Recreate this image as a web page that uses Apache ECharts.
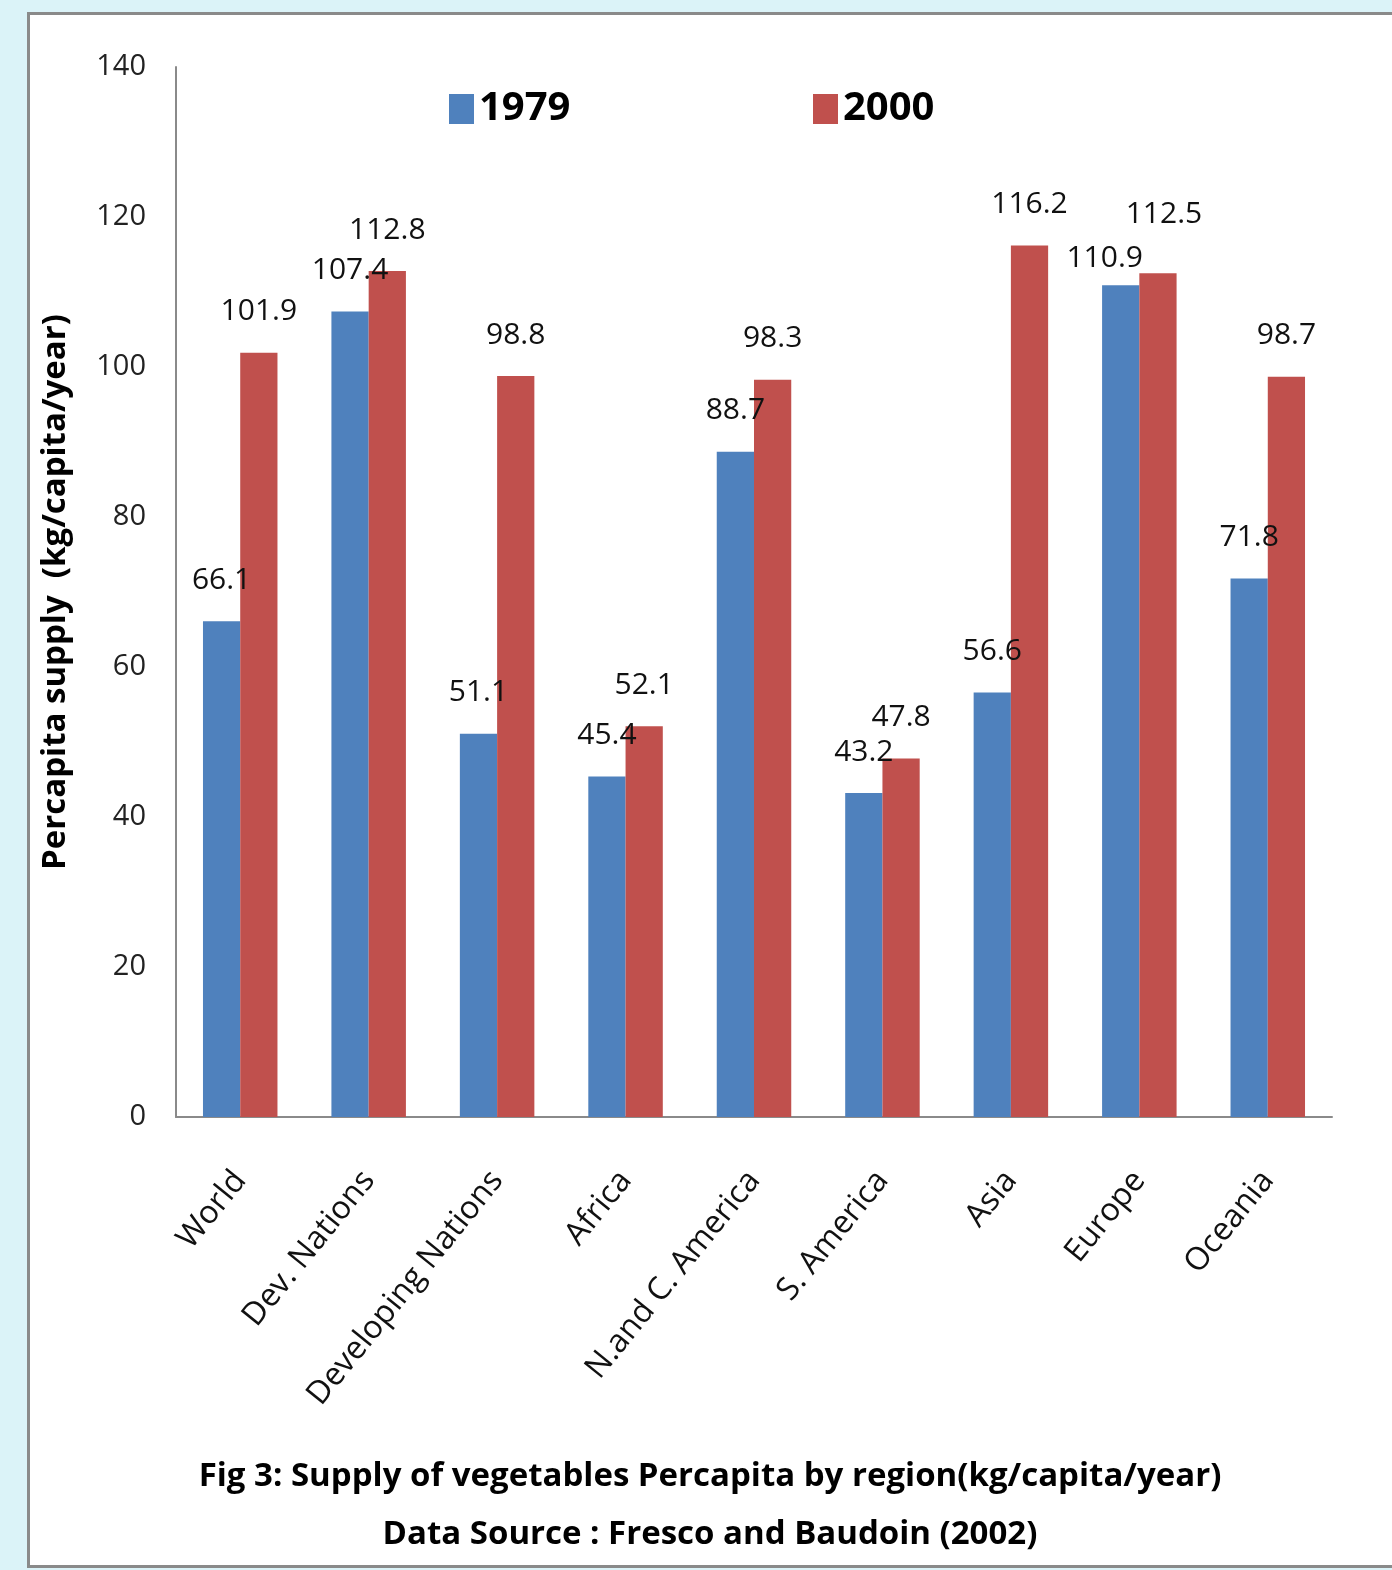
<!DOCTYPE html>
<html>
<head>
<meta charset="utf-8">
<script src="https://cdn.jsdelivr.net/npm/echarts@6/dist/echarts.min.js"></script>
<style>
  html, body { margin: 0; padding: 0; background: #dbf3f8; }
  #chart { width: 1392px; height: 1570px; }
</style>
</head>
<body>
<div id="chart"></div>
<script>
// 地区名称
var regions = ['World', 'Dev. Nations', 'Developing Nations', 'Africa', 'N.and C. America',
               'S. America', 'Asia', 'Europe', 'Oceania'];
// 1979 / 2000 人均蔬菜供应量
var supply1979 = [66.1, 107.4, 51.1, 45.4, 88.7, 43.2, 56.6, 110.9, 71.8];
var supply2000 = [101.9, 112.8, 98.8, 52.1, 98.3, 47.8, 116.2, 112.5, 98.7];
var yTicks = [0, 20, 40, 60, 80, 100, 120, 140];

var FONT = '"Open Sans", "Noto Sans", sans-serif';
var chart = echarts.init(document.getElementById('chart'));

// Europe 的两个标签在原图中错开摆放
function withOffsets(values, offsets) {
    return values.map(function (v, i) {
        return offsets[i] ? { value: v, label: { offset: offsets[i] } } : v;
    });
}

var option = {
    backgroundColor: '#dbf3f8',
    animation: false,
    textStyle: { fontFamily: FONT },
    graphic: [{
        type: 'rect',
        z: -10,
        shape: { x: 28.5, y: 13.5, width: 1400, height: 1553 },
        style: { fill: '#ffffff', stroke: '#8a8a8a', lineWidth: 3 }
    }],
    title: {
        text: 'Fig 3: Supply of vegetables Percapita by region(kg/capita/year)\nData Source : Fresco and Baudoin (2002)',
        left: 705,
        top: 1443,
        textAlign: 'center',
        textStyle: { fontFamily: FONT, fontSize: 33, fontWeight: 'bold', color: '#000', lineHeight: 58 }
    },
    legend: [{
        data: ['1979'],
        left: 444, top: 84, icon: 'rect',
        itemWidth: 25, itemHeight: 30, itemGap: 12,
        textStyle: { fontFamily: FONT, fontSize: 40, fontWeight: 'bold', color: '#000' }
    }, {
        data: ['2000'],
        left: 808, top: 84, icon: 'rect',
        itemWidth: 25, itemHeight: 30, itemGap: 12,
        textStyle: { fontFamily: FONT, fontSize: 40, fontWeight: 'bold', color: '#000' }
    }],
    grid: { left: 176, right: 60, top: 67, bottom: 453 },
    xAxis: {
        type: 'category',
        data: regions,
        axisLine: { lineStyle: { color: '#8a8a8a', width: 2 } },
        axisTick: { show: false },
        axisLabel: { rotate: 51, interval: 0, fontSize: 32, color: '#111', margin: 58, fontFamily: FONT }
    },
    yAxis: {
        type: 'value',
        min: yTicks[0],
        max: yTicks[yTicks.length - 1],
        interval: 20,
        name: 'Percapita supply  (kg/capita/year)',
        nameLocation: 'middle',
        nameGap: 104,
        nameTextStyle: { fontFamily: FONT, fontSize: 33, fontWeight: 'bold', color: '#000' },
        axisLine: { show: true, lineStyle: { color: '#8a8a8a', width: 2 } },
        axisTick: { show: false },
        splitLine: { show: false },
        axisLabel: { fontSize: 29, color: '#222', margin: 30, fontFamily: FONT }
    },
    color: ['#4f81bd', '#c0504d'],
    series: [{
        name: '1979',
        type: 'bar',
        data: withOffsets(supply1979, { 7: [-16, 14] }),
        barGap: '0%',
        barCategoryGap: '42%',
        label: { show: true, position: 'top', distance: 26, fontSize: 30, color: '#111', fontFamily: FONT }
    }, {
        name: '2000',
        type: 'bar',
        data: withOffsets(supply2000, { 7: [6, -18] }),
        label: { show: true, position: 'top', distance: 26, fontSize: 30, color: '#111', fontFamily: FONT }
    }]
};

chart.setOption(option);
window.addEventListener('resize', chart.resize);
</script>
</body>
</html>
